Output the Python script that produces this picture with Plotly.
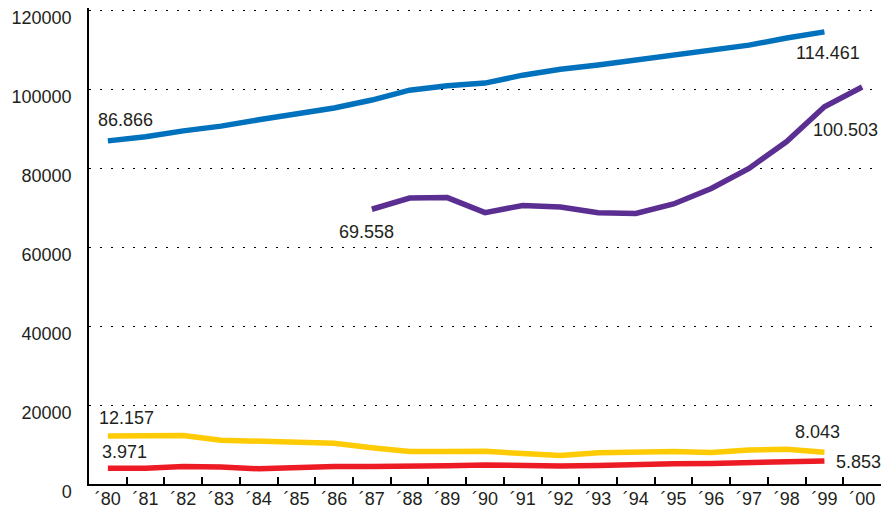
import plotly.graph_objects as go

years = ["\u00b4%02d" % (y % 100) for y in range(1980, 2001)]

blue_years = years[0:20]
blue_vals = [86866, 87900, 89400, 90600, 92200, 93700, 95200, 97200, 99700, 100800,
             101500, 103500, 105000, 106100, 107300, 108600, 109900, 111100, 112900, 114461]

purple_years = years[7:21]
purple_vals = [69558, 72400, 72500, 68700, 70500, 70100, 68700, 68500, 70900, 74800,
               79900, 86700, 95500, 100503]

yellow_years = years[0:20]
yellow_vals = [12157, 12350, 12300, 11100, 10900, 10700, 10300, 9200, 8200, 8200,
               8300, 7700, 7200, 7900, 8000, 8200, 7950, 8600, 8800, 8043]

red_years = years[0:20]
red_vals = [3971, 4000, 4400, 4300, 3850, 4200, 4400, 4400, 4400, 4600,
            4800, 4650, 4560, 4700, 5000, 5100, 5200, 5500, 5750, 5853]

y_ticks = [0, 20000, 40000, 60000, 80000, 100000, 120000]

FONT = "Liberation Sans, Arial, sans-serif"
TXT = "#231f20"

fig = go.Figure()
for xs, ys, col in [(blue_years, blue_vals, "#0071bc"),
                    (purple_years, purple_vals, "#5b2e91"),
                    (yellow_years, yellow_vals, "#ffcb05"),
                    (red_years, red_vals, "#ed1c24")]:
    fig.add_trace(go.Scatter(x=xs, y=ys, mode="lines",
                             line=dict(color=col, width=5.5),
                             hoverinfo="skip", showlegend=False))

labels = [
    (blue_years[0], blue_vals[0], "86.866", "left", -12, 21),
    (blue_years[-1], blue_vals[-1], "114.461", "center", 4, -21),
    (purple_years[-1], purple_vals[-1], "100.503", "right", 18, -43),
    (purple_years[0], purple_vals[0], "69.558", "center", -5, -23),
    (yellow_years[0], yellow_vals[0], "12.157", "left", -11, 18),
    (red_years[0], red_vals[0], "3.971", "left", -8, 16),
    (yellow_years[-1], yellow_vals[-1], "8.043", "center", -7, 20),
    (red_years[-1], red_vals[-1], "5.853", "left", 10, -1),
]
for x, y, t, xa, xs, ys in labels:
    fig.add_annotation(x=x, y=y, text=t, showarrow=False, xanchor=xa,
                       yanchor="middle", xshift=xs, yshift=ys,
                       font=dict(family=FONT, size=18, color=TXT))

fig.update_layout(
    width=881, height=509,
    margin=dict(l=89, r=0, t=8, b=25, autoexpand=False),
    plot_bgcolor="white", paper_bgcolor="white",
    font=dict(family=FONT, size=18, color=TXT),
)
fig.update_xaxes(
    type="category", categoryorder="array", categoryarray=years,
    range=[-0.5, 20.5], automargin=False,
    showgrid=False, showline=True, linecolor="black", linewidth=2,
    ticks="inside", ticklen=7, tickcolor="black", tickwidth=1.5,
    tickson="boundaries", ticklabelstandoff=-3,
    tickfont=dict(family=FONT, size=18, color=TXT),
    zeroline=False,
)
fig.update_yaxes(
    range=[0, 120506], tickvals=y_ticks, ticktext=[str(v) for v in y_ticks],
    automargin=False, ticklabelshift=8,
    showgrid=True, gridcolor="black", gridwidth=1.3, griddash="2px,9px",
    showline=True, linecolor="black", linewidth=1.5,
    ticks="", ticklabelstandoff=12, zeroline=False,
    tickfont=dict(family=FONT, size=18, color=TXT),
)

# remove the browser's default 8px body margin so the figure fills the window
fig.write_html(
    "out.html",
    config={"displayModeBar": False},
    post_script="document.body.style.margin='0';"
                "document.documentElement.style.overflow='hidden';",
)
